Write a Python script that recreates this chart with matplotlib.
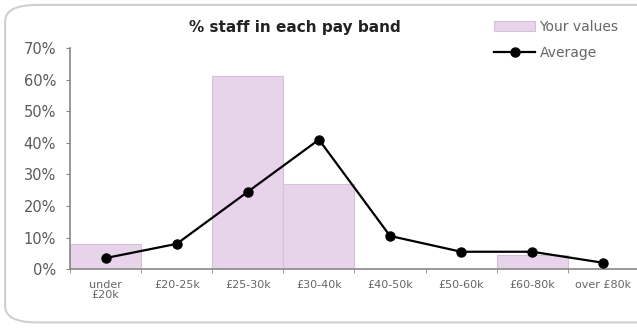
import matplotlib
matplotlib.use("Agg")
from matplotlib import pyplot as plt
from matplotlib.patches import FancyBboxPatch
import numpy as np

bands = ["under\n£20k", "£20-25k", "£25-30k", "£30-40k", "£40-50k", "£50-60k", "£60-80k", "over £80k"]
your_values = [8, 0, 61, 27, 0, 0, 4.5, 0]
average = [3.5, 8, 24.5, 41, 10.5, 5.5, 5.5, 2]
yticks = [0, 10, 20, 30, 40, 50, 60, 70]

fig = plt.figure(figsize=(6.37, 3.29), dpi=100)
fig.patch.set_facecolor("white")

# rounded frame round the chart
frame = FancyBboxPatch((0.008, 0.02), 1.2, 0.965, boxstyle="round,pad=0,rounding_size=0.05",
                       transform=fig.transFigure, facecolor="white", edgecolor="#cfcfcf",
                       linewidth=1.5, zorder=-5)
fig.patches.append(frame)

ax = fig.add_axes([0.11, 0.182, 0.893, 0.672])
ax.set_facecolor("none")
ax.set_zorder(2)

x = np.arange(len(bands))
bars = ax.bar(x, your_values, width=1.0, color="#e8d4ea", edgecolor="#d8bedb", linewidth=0.8,
              label="Your values", zorder=2)
line, = ax.plot(x, average, color="black", linewidth=1.6, marker="o", markersize=6.5,
                label="Average", zorder=3)

ax.set_xlim(-0.5, len(bands) - 0.5)
ax.set_ylim(0, 70)
ax.set_yticks(yticks)
ax.set_yticklabels([f"{v}%" for v in yticks], color="#5a5a5a", fontsize=10.5)
ax.set_xticks(x)
ax.set_xticklabels(bands, color="#666666", fontsize=8, linespacing=1.0)
ax.set_xticks(np.arange(len(bands) + 1) - 0.5, minor=True)
ax.tick_params(axis="x", which="major", length=0, pad=8)
ax.tick_params(axis="x", which="minor", length=3, color="#888888", direction="out")
ax.tick_params(axis="y", length=3, color="#888888", direction="out", pad=7)

for side in ["top", "right"]:
    ax.spines[side].set_visible(False)
for side in ["left", "bottom"]:
    ax.spines[side].set_color("#888888")
    ax.spines[side].set_linewidth(1.2)

fig.text(0.463, 0.915, "% staff in each pay band", ha="center", va="center",
         fontsize=11, fontweight="bold", color="#222222")

leg = fig.legend([bars, line], ["Your values", "Average"], loc="upper left",
                 bbox_to_anchor=(0.775, 0.94), frameon=False, borderpad=0, borderaxespad=0,
                 fontsize=10, handlelength=3.0, handletextpad=0.3, labelspacing=0.9)
for t in leg.get_texts():
    t.set_color("#666666")

plt.savefig("out.png", dpi=100)
